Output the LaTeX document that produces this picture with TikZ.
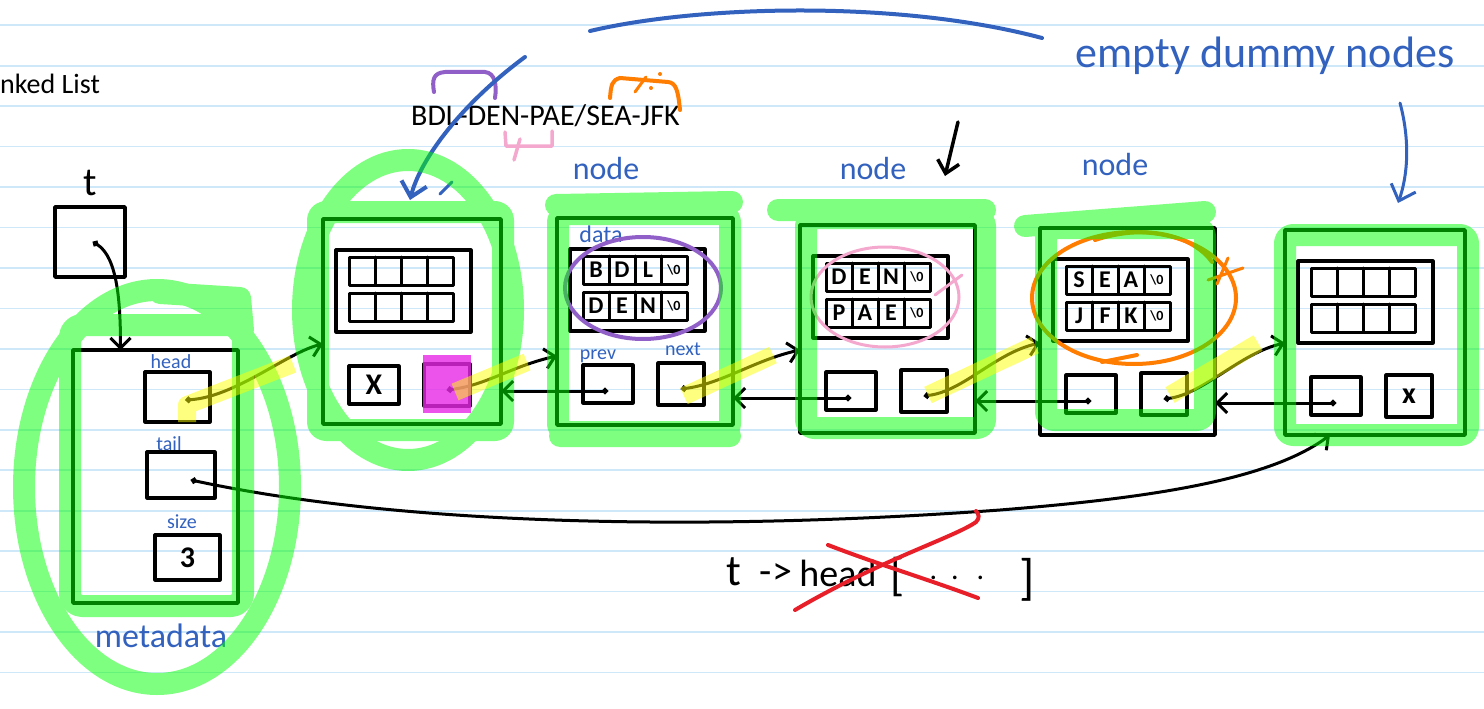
\documentclass[tikz,border=0pt]{standalone}
\usepackage{fontspec}
\setmainfont{Carlito}
\usetikzlibrary{arrows.meta,calc}

\definecolor{ruleblue}{RGB}{206,232,250}
\definecolor{inkblue}{RGB}{50,98,190}
\definecolor{inkpurple}{RGB}{145,95,200}
\definecolor{inkpink}{RGB}{245,168,205}
\definecolor{inkorange}{RGB}{255,125,0}
\definecolor{inkred}{RGB}{232,30,40}
\definecolor{hlgreen}{RGB}{0,255,0}
\definecolor{hlyellow}{RGB}{255,255,0}
\definecolor{hlmagenta}{RGB}{230,40,230}

\newcommand\nullch{{\fontsize{14}{14}\selectfont\textbackslash0}}

\tikzset{
  ink/.style={line width=3.5pt, line cap=round, line join=round},
  frame/.style={draw, ink, rectangle, inner sep=0pt, outer sep=0pt},
  slot/.style={frame, line width=3.2pt, font=\fontsize{30}{30}\selectfont\bfseries},
  cellrow/.style={frame, line width=3pt, minimum width=104pt, minimum height=28pt},
  cellchar/.style={font=\fontsize{24}{24}\selectfont\bfseries, inner sep=0pt},
  ptr/.style={ink, line width=3pt, {Circle[length=6pt]}-{Straight Barb[length=10pt,width=20pt]}},
  backptr/.style={ink, line width=3pt, {Circle[length=6pt]}-{Straight Barb[length=10pt,width=20pt]}},
  hand/.style={text=inkblue, inner sep=0pt},
  bluestroke/.style={draw=inkblue, line width=4pt, line cap=round, line join=round},
  ruleline/.style={draw=ruleblue, line width=1.6pt},
  hl/.style={draw=hlgreen, line width=22pt, line cap=round, line join=round},
  hly/.style={draw=hlyellow, line width=18pt, line cap=butt, line join=round},
}

% one list node: name, x, y, width, height, row 1 chars, row 2 chars, prev slot, next slot
\newcommand\listnode[9]{%
  \node[frame, minimum width=#4pt, minimum height=#5pt, anchor=north west] (#1) at (#2,#3) {};
  \node[frame, line width=3.2pt, minimum width=135pt, minimum height=82pt, anchor=north west] (#1-data) at ([shift={(13,31)}]#1.north west) {};
  \node[cellrow, anchor=north west] (#1-r1) at ([shift={(26,38)}]#1.north west) {};
  \node[cellrow, anchor=north west] (#1-r2) at ([shift={(26,74)}]#1.north west) {};
  \foreach \k in {1,2,3} {
    \draw[ink, line width=3pt] ($(#1-r1.north west)!\k/4!(#1-r1.north east)$) -- ($(#1-r1.south west)!\k/4!(#1-r1.south east)$);
    \draw[ink, line width=3pt] ($(#1-r2.north west)!\k/4!(#1-r2.north east)$) -- ($(#1-r2.south west)!\k/4!(#1-r2.south east)$);
  }
  \foreach \ch [count=\i] in {#6} {
    \pgfmathsetmacro\f{(\i-0.5)/4}
    \node[cellchar] (#1-r1-\i) at ($(#1-r1.west)!\f!(#1-r1.east)$) {\ch};
  }
  \foreach \ch [count=\i] in {#7} {
    \pgfmathsetmacro\f{(\i-0.5)/4}
    \node[cellchar] (#1-r2-\i) at ($(#1-r2.west)!\f!(#1-r2.east)$) {\ch};
  }
  \node[slot, minimum width=50pt, minimum height=38pt, anchor=north west] (#1-prev) at ([shift={(26,147)}]#1.north west) {#8};
  \node[slot, minimum width=46pt, minimum height=42pt, anchor=north west] (#1-next) at ([shift={(101,145)}]#1.north west) {#9};
  \coordinate (#1-pdot) at ([yshift=-7pt]#1-prev.center);
  \coordinate (#1-ndot) at ([yshift=-5pt]#1-next.center);
}

\begin{document}
\begin{tikzpicture}[x=1pt,y=-1pt]
\useasboundingbox (0,0) rectangle (1484,709);
\fill[white] (0,0) rectangle (1484,709);

% ruled paper
\foreach \k in {0,...,16}
  \draw[ruleline] (0,{25.3+40.45*\k}) -- (1484,{25.3+40.45*\k});

% printed text
\node[font=\fontsize{28}{28}\selectfont, anchor=base west, inner sep=0pt] (title) at (0,93) {nked List};
\node[font=\fontsize{30}{30}\selectfont, anchor=base west, inner sep=0pt] (route) at (411,125) {BDL-DEN-PAE/SEA-JFK};

% the list variable t
\node[font=\fontsize{40}{40}\selectfont, inner sep=0pt] (tlabel) at (90,183) {t};
\node[frame, minimum width=70pt, minimum height=70pt, anchor=north west] (tbox) at (55,207) {};
\coordinate (t-dot) at ([xshift=3pt]tbox.center);

% metadata block
\node[frame, minimum width=165pt, minimum height=253pt, anchor=north west] (meta) at (73,350) {};
\node[slot, minimum width=65pt, minimum height=50pt, anchor=north west] (m-head) at (145,372) {};
\node[slot, minimum width=68pt, minimum height=46pt, anchor=north west] (m-tail) at (147,452) {};
\node[slot, minimum width=65pt, minimum height=45pt, anchor=north west] (m-size) at (155,535) {3};
\coordinate (m-hdot) at ([xshift=8pt,yshift=-3pt]m-head.center);
\coordinate (m-tdot) at ([xshift=10pt,yshift=-5pt]m-tail.center);
\coordinate (meta-in) at ([xshift=-35pt]meta.north);

\node[hand, font=\fontsize{20}{20}\selectfont] (lbl-head) at (171,362) {head};
\node[hand, font=\fontsize{20}{20}\selectfont] (lbl-tail) at (169,444) {tail};
\node[hand, font=\fontsize{20}{20}\selectfont] (lbl-size) at (182,522) {size};
\node[hand, font=\fontsize{34}{34}\selectfont] (lbl-meta) at (161,636) {metadata};

% list nodes
\listnode{n1}{323}{219}{178}{205}{{},{},{},{}}{{},{},{},{}}{X}{}
\listnode{n2}{557}{218}{176}{207}{B,D,L,\nullch}{D,E,N,\nullch}{}{}
\listnode{n3}{800}{225}{175}{208}{D,E,N,\nullch}{P,A,E,\nullch}{}{}
\listnode{n4}{1040}{228}{175}{207}{S,E,A,\nullch}{J,F,K,\nullch}{}{}
\listnode{n5}{1285}{230}{180}{205}{{},{},{},{}}{{},{},{},{}}{}{x}

\coordinate (n1-in) at ([yshift=-125pt]n1.north west);
\coordinate (n2-in) at ([yshift=-138pt]n2.north west);
\coordinate (n3-in) at ([yshift=-125pt]n3.north west);
\coordinate (n4-in) at ([yshift=-115pt]n4.north west);
\coordinate (n5-in) at ([yshift=-113pt]n5.north west);
\coordinate (n5-tin) at ([xshift=-45pt]n5.south);

\node[hand, font=\fontsize{32}{32}\selectfont] (n2-label) at (606,168) {node};
\node[hand, font=\fontsize{32}{32}\selectfont] (n3-label) at (873,168) {node};
\node[hand, font=\fontsize{32}{32}\selectfont] (n4-label) at (1115,164) {node};
\node[hand, font=\fontsize{24}{24}\selectfont] (lbl-data) at (601,234) {data};
\node[hand, font=\fontsize{20}{20}\selectfont] (lbl-prev) at (598,356) {prev};
\node[hand, font=\fontsize{20}{20}\selectfont] (lbl-next) at (683,349) {next};

% pointers
\draw[ptr] (t-dot) .. controls +(25,15) and +(0,-45) .. (meta-in);
\draw[ptr] (m-hdot) .. controls +(50,-3) and +(-35,8) .. (n1-in);
\draw[ptr] (n1-ndot) .. controls +(40,-5) and +(-45,10) .. (n2-in);
\draw[ptr] (n2-ndot) .. controls +(40,-5) and +(-45,10) .. (n3-in);
\draw[ptr] (n3-ndot) .. controls +(40,-5) and +(-45,10) .. (n4-in);
\draw[ptr] (n4-ndot) .. controls +(40,-5) and +(-45,10) .. (n5-in);
\draw[backptr] (n2-pdot) -- (n2-pdot -| n1.east);
\draw[backptr] (n3-pdot) -- (n3-pdot -| n2.east);
\draw[backptr] (n4-pdot) -- (n4-pdot -| n3.east);
\draw[backptr] (n5-pdot) -- (n5-pdot -| n4.east);
\draw[ptr] (m-tdot) .. controls (400,525) and (700,532) .. (1000,510)
  .. controls (1150,498) and (1270,480) .. (n5-tin);

% black note arrow over the middle node
\coordinate (mark-a) at (958,122);
\coordinate (mark-b) at (945,176);
\draw[ink, -{Straight Barb[length=12pt,width=22pt]}] (mark-a) -- (mark-b);

% t -> head [ ... ] note
\node[font=\fontsize{44}{44}\selectfont, inner sep=0pt] (bt) at (734,572) {t};
\node[font=\fontsize{40}{40}\selectfont, inner sep=0pt] (barrow) at (776,574) {->};
\node[font=\fontsize{38}{38}\selectfont, inner sep=0pt] (bhead) at (838,573) {head};
\node[font=\fontsize{46}{46}\selectfont, inner sep=0pt] (blbr) at (898,577) {[};
\node[font=\fontsize{30}{30}\selectfont, inner sep=0pt] (bdots) at (957,578) {.\hspace{14pt}.\hspace{18pt}.};
\node[font=\fontsize{50}{50}\selectfont, inner sep=0pt] (brbr) at (1027,580) {]};
\draw[draw=inkred, line width=4pt, line cap=round] (795,610) .. controls (880,560) and (955,537) .. (976,522)
  .. controls (980,518) and (979,514) .. (976,511);
\draw[draw=inkred, line width=4pt, line cap=round] (828,545) .. controls (880,565) and (930,580) .. (978,598);

% coloured annotation strokes
\draw[draw=inkpurple, line width=4pt, line cap=round] (434,92) .. controls (432,80) and (433,73) .. (445,72) -- (485,72) .. controls (495,73) and (497,85) .. (495,98);
\draw[draw=inkpink, line width=3.5pt, line cap=round, line join=round] (505,132) -- (506,146) -- (552,146) -- (552,131);
\draw[draw=inkpink, line width=3.5pt, line cap=round] (514,160) -- (520,139);
\draw[draw=inkorange, line width=4pt, line cap=round] (610,98) .. controls (611,85) and (612,80) .. (620,78) -- (668,82) .. controls (676,83) and (678,90) .. (680,110);
\draw[draw=inkorange, line width=3pt, line cap=round] (635,92) -- (646,77);
\fill[inkorange] (660,74) circle (2pt) (651,88) circle (2pt);

\draw[draw=inkpurple, line width=4pt] (643,288) ellipse [x radius=78, y radius=51];
\draw[draw=inkpink, line width=3pt] (885,297) ellipse [x radius=74, y radius=50];
\draw[draw=inkpink, line width=3pt, line cap=round] (935,295) -- (962,275);
\draw[draw=inkorange, line width=4pt] (1134,298) ellipse [x radius=102, y radius=66];
\draw[draw=inkorange, line width=4pt, line cap=round] (1095,240) .. controls (1150,222) and (1195,238) .. (1212,262);
\draw[draw=inkorange, line width=4pt, line cap=round] (1102,362) -- (1137,355);
\draw[draw=inkorange, line width=3pt, line cap=round] (1208,280) -- (1243,268) (1217,284) -- (1228,258);

% blue notes
\coordinate (arc-a) at (590,31);
\coordinate (arc-b) at (1042,38);
\draw[bluestroke] (arc-a) .. controls (700,5) and (900,0) .. (arc-b);
\node[hand, font=\fontsize{44}{44}\selectfont, anchor=base] (dummy-note) at (1265,68) {empty dummy nodes};
\coordinate (head-note-a) at (525,57);
\coordinate (head-note-b) at (410,200);
\draw[bluestroke, -{Straight Barb[length=14pt,width=26pt]}] (head-note-a) .. controls (460,105) and (420,160) .. (head-note-b);
\draw[bluestroke, line width=3pt] (440,194) -- (452,182);
\coordinate (tail-note-a) at (1400,103);
\coordinate (tail-note-b) at (1398,203);
\draw[bluestroke, line width=3pt, -{Straight Barb[length=14pt,width=26pt]}] (tail-note-a) .. controls (1410,140) and (1408,175) .. (tail-note-b);

% magenta marker on the dummy head's next slot
\fill[hlmagenta, opacity=0.8] (423,355) rectangle (471,413);

% green highlighter
\begin{scope}[transparency group, opacity=0.5]
  \draw[hl] (157,487) ellipse [x radius=133, y radius=197];
  \draw[hl, rounded corners=12] (70,325) rectangle (243,606);
  \draw[hl] (160,293) -- (240,298) -- (243,330);
  \draw[hl] (408,310) ellipse [x radius=105, y radius=150];
  \draw[hl, rounded corners=8] (318,212) rectangle (503,430);
  \draw[hl, rounded corners=8] (558,214) rectangle (730,432);
  \draw[hl] (556,205) -- (732,202);
  \draw[hl] (560,436) -- (730,436);
  \draw[hl, rounded corners=8] (806,218) rectangle (985,428);
  \draw[hl] (778,210) -- (985,210);
  \draw[hl, rounded corners=8] (1046,228) rectangle (1205,420);
  \draw[hl] (1025,226) -- (1205,212);
  \draw[hl, rounded corners=8] (1285,235) rectangle (1468,435);
\end{scope}

% yellow highlighter along the forward links
\begin{scope}[transparency group, opacity=0.5]
  \draw[hly] (187,422) -- (187,405) -- (293,364);
  \draw[hly] (455,392) -- (527,362);
  \draw[hly] (684,396) -- (773,355);
  \draw[hly] (928,395) -- (1035,345);
  \draw[hly] (1170,395) -- (1258,343);
\end{scope}
\end{tikzpicture}
\end{document}
